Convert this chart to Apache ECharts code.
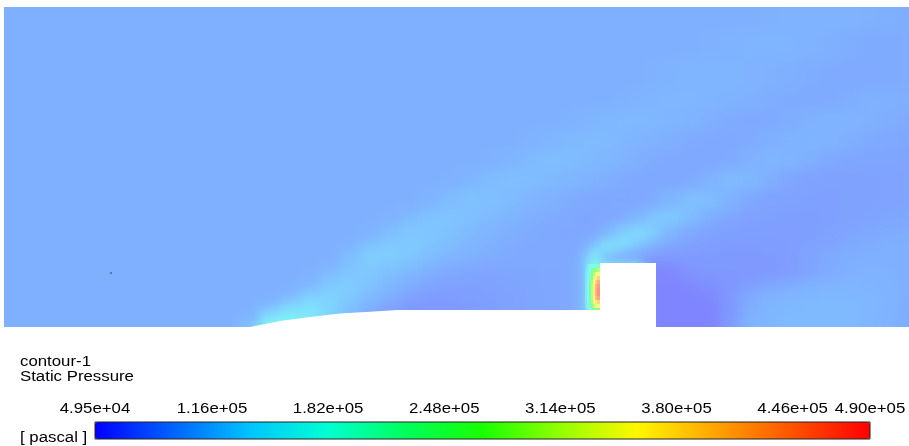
<!DOCTYPE html>
<html>
<head>
<meta charset="utf-8">
<script src="https://cdn.jsdelivr.net/npm/echarts@6/dist/echarts.min.js"></script>
<style>
  html, body { margin: 0; padding: 0; background: #fff; }
  #page { position: relative; width: 909px; height: 446px; overflow: hidden; }
  #clip { position: absolute; left: 4px; top: 7px; width: 905px; height: 320px; overflow: hidden; }
  #field { position: absolute; left: -34px; top: -37px; width: 970px; height: 390px; filter: blur(6px); }
  #chart { position: absolute; left: 0; top: 0; width: 909px; height: 446px; }
</style>
</head>
<body>
<div id="page">
  <div id="clip"><div id="field"></div></div>
  <div id="chart"></div>
</div>
<script>
// cell edges, in picture pixels
const xEdges = [-30, 40, 80, 120, 160, 200, 240,
  260, 280, 300, 320, 340, 360, 380, 400, 420, 440, 460, 480, 500, 520, 540, 560,
  575, 583, 587, 590, 593, 596, 600,
  615, 630, 645, 660,
  680, 700, 720, 740, 760, 780, 800, 820, 840, 860, 880, 900, 940];
const yEdges = [-30, 30, 60, 90, 110, 130, 150, 170, 190, 210, 225, 240, 250, 258, 264, 270, 280, 290, 300, 310, 320, 330, 360];

// static pressure, in 1e4 Pa, one row per y band
// groups: left part | x 240-560 | front of the block | over the block | behind it
const pressure = [
  [9.3,9.3,9.3,9.3,9.3,9.3, 9.3,9.3,9.3,9.3,9.3,9.3,9.3,9.3,9.3,9.3,9.3,9.3,9.3,9.3,9.3,9.3, 9.3,9.3,9.3,9.3,9.3,9.3,9.3, 9.3,9.3,9.3,9.3, 9.3,9.3,9.3,9.3,9.3,9.4,9.5,9.6,9.6,9.5,9.4,9.2,9.1],
  [9.3,9.3,9.3,9.3,9.3,9.3, 9.3,9.3,9.3,9.3,9.3,9.3,9.3,9.3,9.3,9.3,9.3,9.3,9.3,9.3,9.3,9.3, 9.3,9.3,9.3,9.3,9.3,9.3,9.3, 9.3,9.3,9.3,9.3, 9.3,9.3,9.4,9.5,9.7,9.7,9.7,9.5,9.3,9.1,8.9,8.9,9],
  [9.3,9.3,9.3,9.3,9.3,9.3, 9.3,9.3,9.3,9.3,9.3,9.3,9.3,9.3,9.3,9.3,9.3,9.3,9.3,9.3,9.3,9.3, 9.3,9.3,9.3,9.3,9.3,9.3,9.3, 9.3,9.3,9.3,9.4, 9.6,9.8,9.8,9.8,9.6,9.4,9.2,9,8.9,8.8,8.8,8.9,9],
  [9.3,9.3,9.3,9.3,9.3,9.3, 9.3,9.3,9.3,9.3,9.3,9.3,9.3,9.3,9.3,9.3,9.3,9.3,9.3,9.3,9.3,9.3, 9.3,9.3,9.3,9.3,9.3,9.3,9.3, 9.3,9.4,9.6,9.8, 9.9,9.9,9.7,9.5,9.3,9.1,8.9,8.8,8.9,9.1,9.4,9.3,9.2],
  [9.3,9.3,9.3,9.3,9.3,9.3, 9.3,9.3,9.3,9.3,9.3,9.3,9.3,9.3,9.3,9.3,9.3,9.3,9.3,9.3,9.3,9.3, 9.4,9.6,9.7,9.7,9.8,9.8,9.9, 10,10.1,10.1,10, 9.8,9.6,9.2,8.9,8.7,8.8,9.1,9.4,9.6,9.6,9.4,9.1,8.9],
  [9.3,9.3,9.3,9.3,9.3,9.3, 9.3,9.3,9.3,9.3,9.3,9.3,9.3,9.3,9.3,9.3,9.3,9.3,9.3,9.3,9.5,9.8, 10.1,10.2,10.3,10.3,10.3,10.3,10.3, 10.2,10,9.8,9.5, 9.2,8.9,8.7,8.7,8.9,9.2,9.5,9.7,9.6,9.2,8.8,8.6,8.5],
  [9.3,9.3,9.3,9.3,9.3,9.3, 9.3,9.3,9.3,9.3,9.3,9.3,9.3,9.3,9.3,9.3,9.3,9.3,9.4,9.8,10.2,10.5, 10.4,10.3,10.2,10.2,10.1,10.1,10, 9.9,9.5,9.2,8.9, 8.7,8.6,8.6,8.8,9.4,9.8,9.7,9.2,8.7,8.4,8.3,8.3,8.3],
  [9.3,9.3,9.3,9.3,9.3,9.3, 9.3,9.3,9.3,9.3,9.3,9.3,9.3,9.3,9.3,9.3,9.4,9.8,10.3,10.6,10.5,10.2, 9.9,9.7,9.6,9.5,9.5,9.4,9.4, 9.2,8.9,8.7,8.6, 8.6,8.8,9.5,10.3,10,9.2,8.4,8.1,8,8,8.1,8.2,8.3],
  [9.3,9.3,9.3,9.3,9.3,9.3, 9.3,9.3,9.3,9.3,9.3,9.3,9.3,9.3,9.3,9.7,10.4,10.9,10.7,10.3,9.8,9.4, 9,8.8,8.7,8.7,8.6,8.6,8.6, 8.5,8.5,8.6,8.9, 9.8,10.7,10.5,9.5,8.6,8.2,8,7.9,7.9,8,8.1,8.2,8.3],
  [9.3,9.3,9.3,9.3,9.3,9.3, 9.3,9.3,9.3,9.3,9.3,9.3,9.3,9.5,10.2,11,11.1,10.7,10.2,9.7,9.2,8.9, 8.6,8.5,8.4,8.4,8.4,8.4,8.4, 8.6,9,9.8,11.2, 11.7,10.6,9.1,8.4,8,7.9,7.8,7.8,7.9,8,8.2,8.4,8.6],
  [9.3,9.3,9.3,9.3,9.3,9.3, 9.3,9.3,9.3,9.3,9.3,9.3,9.5,10.6,11.4,11.3,10.8,10.2,9.7,9.2,8.9,8.6, 8.5,8.5,8.5,8.5,8.5,8.6,8.8, 9.8,12,13.2,12, 9.8,8.7,8.1,7.8,7.7,7.7,7.7,7.8,8,8.3,8.6,8.9,9.1],
  [9.3,9.3,9.3,9.3,9.3,9.3, 9.3,9.3,9.3,9.3,9.3,9.5,10.8,11.7,11.6,11,10.4,9.8,9.3,8.9,8.7,8.6, 8.6,8.7,9,9.4,9.9,10.6,11.8, 15,14.5,11.5,9.5, 8.5,7.9,7.6,7.5,7.5,7.5,7.6,7.9,8.3,8.7,9,9.2,9.2],
  [9.3,9.3,9.3,9.3,9.3,9.3, 9.3,9.3,9.3,9.3,9.3,10.5,12,12,11.3,10.6,10,9.4,9.1,8.8,8.6,8.6, 8.6,9,10,12.5,15.5,16.8,15.5, 11,9.2,8.5,8, 7.7,7.5,7.4,7.3,7.3,7.5,7.8,8.3,8.8,9.1,9.2,9.3,9.3],
  [9.3,9.3,9.3,9.3,9.3,9.3, 9.3,9.3,9.3,9.3,9.4,10.8,12,11.7,11,10.2,9.6,9.2,8.9,8.7,8.6,8.6, 8.6,9.4,11.5,15.5,17,17.5,16, 9.3,8.5,8,6.8, 6.8,7.2,7.4,7.4,7.3,7.3,7.6,8.2,8.8,9.2,9.3,9.3,9.2],
  [9.3,9.3,9.3,9.3,9.3,9.3, 9.3,9.3,9.3,9.3,9.6,10.8,11.5,11,10.4,9.6,9.1,8.8,8.6,8.5,8.5,8.6, 8.6,9.5,10,14,17,17,17, 17,17,17,5.5, 6,7,7.2,7.2,7.2,7.2,7.6,8.2,8.8,9.2,9.4,9.3,9.2],
  [9.3,9.3,9.3,9.3,9.3,9.3, 9.3,9.3,9.3,9.4,10.6,11.6,11.4,10.6,9.8,9,8.5,8.3,8.2,8.3,8.4,8.5, 8.6,9.5,10,14,17,17,17, 17,17,17,5.5, 5.8,6.6,7,7.2,7.3,7.4,7.7,8.4,9,9.3,9.5,9.4,9.2],
  [9.3,9.3,9.3,9.3,9.3,9.3, 9.3,9.3,9.3,10,11.6,11.8,11,10,9,8.3,8,7.9,8,8.2,8.4,8.5, 8.6,9.5,10,14,17,17,17, 17,17,17,5.4, 5.5,5.8,6.5,7,7.6,8.3,8.9,9.4,9.7,9.8,9.7,9.5,9.2],
  [9.3,9.3,9.3,9.3,9.3,9.3, 9.3,9.3,9.8,11.9,12.4,11.6,10.4,9.3,8.3,7.7,7.6,7.7,7.9,8.1,8.3,8.5, 8.6,9.5,10,14,17,17,17, 17,17,17,5.4, 5.4,5.5,6,7.2,8.8,9.5,9.8,9.9,10,10,9.9,9.6,9.2],
  [9.3,9.3,9.3,9.3,9.3,9.3, 9.3,9.9,12.6,13.6,12.6,11,9.6,8.4,7.5,7.2,7.3,7.5,7.8,8.1,8.3,8.5, 8.6,9.5,10,14,17,17,17, 17,17,17,5.4, 5.4,5.4,5.6,7,9,9.8,10,10.1,10.2,10.1,9.9,9.6,9.1],
  [9.3,9.3,9.3,9.3,9.3,9.3, 9.4,13.5,15,14.5,12.5,10.5,8.8,7.4,7,7.2,7.3,7.5,7.8,8.1,8.3,8.5, 8.6,9.5,10,14,17,17,17, 17,17,17,5.4, 5.4,5.4,5.5,7.2,9.4,10,10.1,10.1,10.2,10.1,9.9,9.5,9],
  [9.3,9.3,9.3,9.3,9.3,9.3, 11,17,17,15.5,13,10.5,8.8,7.4,7,7.2,7.3,7.5,7.8,8.1,8.3,8.5, 8.6,9.5,10,14,17,17,17, 17,17,17,5.4, 5.4,5.4,5.5,7.5,9.5,10,10.1,10.1,10.2,10.1,9.9,9.5,9],
  [9.3,9.3,9.3,9.3,9.3,9.3, 11,17,17,15.5,13,10.5,8.8,7.4,7,7.2,7.3,7.5,7.8,8.1,8.3,8.5, 8.6,9.5,10,14,17,17,17, 17,17,17,5.4, 5.4,5.4,5.5,7.5,9.5,10,10.1,10.1,10.2,10.1,9.9,9.5,9]
];

// the hot strip in front of the block, finer cells drawn unblurred
const stripX = [585, 587, 589, 591, 593, 595, 597, 600];
const stripY = [264, 268, 272, 276, 280, 284, 288, 292, 296, 300, 304, 308, 311];
const stripPressure = [
  [13, 15.5, 17, 19, 20, 19, 17],
  [13.5, 16, 19, 23, 26, 28, 30],
  [14, 16.5, 20, 25, 30, 33, 35],
  [14, 17, 21, 27, 33, 37, 40],
  [14.5, 17, 22, 29, 35, 40, 44],
  [14.5, 17.5, 23, 30, 37, 42, 46],
  [14.5, 17.5, 23, 30, 37, 43, 47],
  [14.5, 17.5, 23, 30, 37, 43, 47],
  [14.5, 17.5, 23, 30, 36, 42, 45],
  [14, 17, 22, 28, 34, 38, 40],
  [14, 16.5, 21, 26, 31, 34, 35],
  [13, 15.5, 19, 22, 25, 26, 26]
];

// wall outline: ramp, flat part, block
const wallX = [250, 280, 310, 340, 370, 397, 600, 600, 656, 656];
const wallY = [327, 321, 317, 313.5, 311.7, 310, 310, 263, 263, 327];

const specks = [[111, 273]];

const tickValues = [4.95, 11.6, 18.2, 24.8, 31.4, 38.0, 44.6, 49.0];
const tickLabels = ['4.95e+04', '1.16e+05', '1.82e+05', '2.48e+05', '3.14e+05', '3.80e+05', '4.46e+05', '4.90e+05'];
const pressureMin = 4.95;
const pressureMax = 49.0;
const rainbow = ['#0000ff', '#0062ff', '#00c4ff', '#00ffd1', '#00ff5d', '#18ff00', '#92ff00', '#fff700', '#ffa400', '#ff5200', '#ff0000'];

function toCells(xs, ys, rows) {
  const out = [];
  rows.forEach((row, r) => {
    row.forEach((v, c) => {
      out.push([xs[c], xs[c + 1], ys[r], ys[r + 1], v]);
    });
  });
  return out;
}

// contour colours are the rainbow at half strength over white
function renderCell(params, api) {
  const a = api.coord([api.value(0), api.value(2)]);
  const b = api.coord([api.value(1), api.value(3)]);
  const shape = { x: a[0], y: a[1], width: b[0] - a[0], height: b[1] - a[1] };
  return {
    type: 'group',
    children: [
      { type: 'rect', shape: shape, style: { fill: '#fff' } },
      { type: 'rect', shape: shape, style: { fill: api.visual('color'), opacity: 0.5 } }
    ]
  };
}

const field = echarts.init(document.getElementById('field'));
field.setOption({
  animation: false,
  grid: { left: 0, right: 0, top: 0, bottom: 0 },
  xAxis: { type: 'value', min: -30, max: 940, show: false },
  yAxis: { type: 'value', min: -30, max: 360, inverse: true, show: false },
  visualMap: {
    show: false,
    dimension: 4,
    min: pressureMin,
    max: pressureMax,
    inRange: { color: rainbow }
  },
  series: [{
    type: 'custom',
    silent: true,
    clip: false,
    data: toCells(xEdges, yEdges, pressure),
    encode: { x: [0, 1], y: [2, 3] },
    renderItem: renderCell
  }]
});

const chart = echarts.init(document.getElementById('chart'));
const textStyle = { fill: '#000', font: '14px "Liberation Sans"' };
const wallPoints = wallX.map((x, i) => [x, wallY[i]]);

chart.setOption({
  animation: false,
  grid: [
    { left: 0, right: 0, top: 0, bottom: 0 },
    { left: 95, top: 422, width: 775, height: 17 }
  ],
  xAxis: [
    { type: 'value', min: 0, max: 909, show: false, gridIndex: 0 },
    { type: 'value', min: pressureMin, max: pressureMax, show: false, gridIndex: 1 }
  ],
  yAxis: [
    { type: 'value', min: 0, max: 446, inverse: true, show: false, gridIndex: 0 },
    { type: 'value', min: 0, max: 1, show: false, gridIndex: 1 }
  ],
  visualMap: {
    type: 'continuous',
    seriesIndex: 0,
    dimension: 4,
    min: pressureMin,
    max: pressureMax,
    orient: 'horizontal',
    left: 95,
    top: 422,
    padding: 0,
    itemWidth: 17,
    itemHeight: 775,
    calculable: false,
    text: null,
    inRange: { color: rainbow }
  },
  series: [
    {
      type: 'custom',
      silent: true,
      data: toCells(stripX, stripY, stripPressure),
      encode: { x: [0, 1], y: [2, 3] },
      renderItem: renderCell
    },
    {
      type: 'custom',
      silent: true,
      data: [0],
      renderItem: (params, api) => ({
        type: 'polygon',
        shape: { points: wallPoints.map(p => api.coord(p)) },
        style: { fill: '#fff' }
      })
    },
    {
      type: 'scatter',
      silent: true,
      data: specks,
      symbolSize: 1.5,
      itemStyle: { color: '#000' }
    }
  ]
});

const labelEls = tickValues.map((v, i) => {
  const x = chart.convertToPixel({ xAxisIndex: 1 }, v);
  return {
    type: 'text',
    x: x,
    y: 409,
    scaleX: 1.2,
    style: Object.assign({ text: tickLabels[i], align: 'center', verticalAlign: 'middle' }, textStyle)
  };
});

chart.setOption({
  graphic: [
    { type: 'rect', shape: { x: 95, y: 422, width: 775, height: 17 }, style: { fill: 'none', stroke: '#222', lineWidth: 1 }, z: 100 },
    { type: 'text', x: 20, y: 362, scaleX: 1.2, style: Object.assign({ text: 'contour-1', verticalAlign: 'middle' }, textStyle) },
    { type: 'text', x: 20, y: 377, scaleX: 1.2, style: Object.assign({ text: 'Static Pressure', verticalAlign: 'middle' }, textStyle) },
    { type: 'text', x: 20, y: 438, scaleX: 1.2, style: Object.assign({ text: '[ pascal ]', verticalAlign: 'middle' }, textStyle) }
  ].concat(labelEls)
});
</script>
</body>
</html>
